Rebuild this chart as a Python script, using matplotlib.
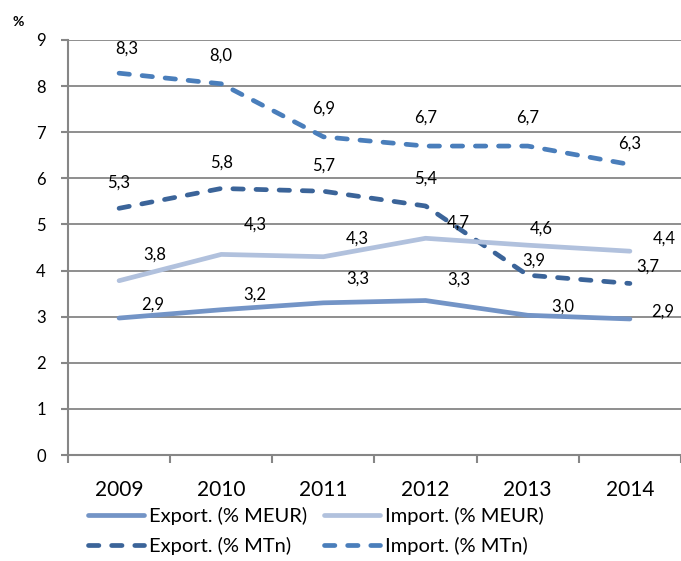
import matplotlib
matplotlib.use("Agg")
import matplotlib.pyplot as plt
import numpy as np

years = ["2009", "2010", "2011", "2012", "2013", "2014"]

exp_meur = [2.97, 3.15, 3.30, 3.35, 3.03, 2.95]
imp_meur = [3.78, 4.35, 4.30, 4.70, 4.55, 4.42]
exp_mtn = [5.35, 5.78, 5.72, 5.40, 3.90, 3.72]
imp_mtn = [8.28, 8.05, 6.90, 6.70, 6.70, 6.30]

exp_meur_lbl = ["2,9", "3,2", "3,3", "3,3", "3,0", "2,9"]
imp_meur_lbl = ["3,8", "4,3", "4,3", "4,7", "4,6", "4,4"]
exp_mtn_lbl = ["5,3", "5,8", "5,7", "5,4", "3,9", "3,7"]
imp_mtn_lbl = ["8,3", "8,0", "6,9", "6,7", "6,7", "6,3"]

plt.rcParams["font.family"] = ["Lato", "DejaVu Sans"]

fig = plt.figure(figsize=(6.81, 5.61), dpi=100)
ax = fig.add_axes([68 / 681, 1 - 455 / 561, 613 / 681, 415 / 561])

x = np.arange(len(years))
dash = (0, (2.2, 2.7))
series = [
    (exp_meur, exp_meur_lbl, "Export. (% MEUR)", "#7394c6", "-",
     [(34, 13), (34, 15), (34, 24), (33, 21), (35, 9), (33, 7)]),
    (exp_mtn, exp_mtn_lbl, "Export. (% MTn)", "#3b6499", dash,
     [(0, 26), (0, 26), (0, 26), (0, 27), (6, 15), (18, 17)]),
    (imp_meur, imp_meur_lbl, "Import. (% MEUR)", "#b1c1dd", "-",
     [(36, 26), (34, 30), (34, 18), (33, 16), (14, 17), (34, 13)]),
    (imp_mtn, imp_mtn_lbl, "Import. (% MTn)", "#4a7ebb", dash,
     [(8, 25), (0, 28), (0, 28), (0, 28), (0, 28), (0, 21)]),
]

for vals, lbls, name, col, ls, offs in series:
    ax.plot(x, vals, color=col, ls=ls, lw=3.4, label=name,
            solid_capstyle="round", dash_capstyle="round")
    for xi, v, t, (dx, dy) in zip(x, vals, lbls, offs):
        ax.annotate(t, (xi, v), xytext=(dx, dy), textcoords="offset pixels",
                    ha="center", va="center", fontsize=12, color="black")

ax.set_xlim(-0.5, 5.5)
ax.set_ylim(0, 9)
ax.set_yticks(range(10))
ax.set_xticks(np.arange(-0.5, 6, 1))
ax.set_xticklabels([])
ax.set_xticks(x, minor=True)
ax.set_xticklabels(years, minor=True, fontsize=15)
ax.tick_params(axis="x", which="minor", length=0, pad=18)
ax.tick_params(axis="x", which="major", length=6, width=1.5, color="#868686")
ax.tick_params(axis="y", length=5, width=1.5, color="#868686", labelsize=12, pad=11)
ax.grid(axis="y", color="#868686", lw=1.3)
ax.set_axisbelow(True)
for s in ["top", "right"]:
    ax.spines[s].set_visible(False)
for s in ["left", "bottom"]:
    ax.spines[s].set_color("#868686")
    ax.spines[s].set_linewidth(1.5)

fig.text(18 / 681, 1 - 22 / 561, "%", fontsize=10, fontweight="bold", ha="center", va="center")

fig.legend(loc="upper left", bbox_to_anchor=(80 / 681, 1 - 499 / 561), ncol=2,
           frameon=False, fontsize=14.5, handlelength=2.8, handletextpad=0.25,
           columnspacing=0.8, labelspacing=0.6, borderaxespad=0)

fig.savefig("out.png", dpi=100)
